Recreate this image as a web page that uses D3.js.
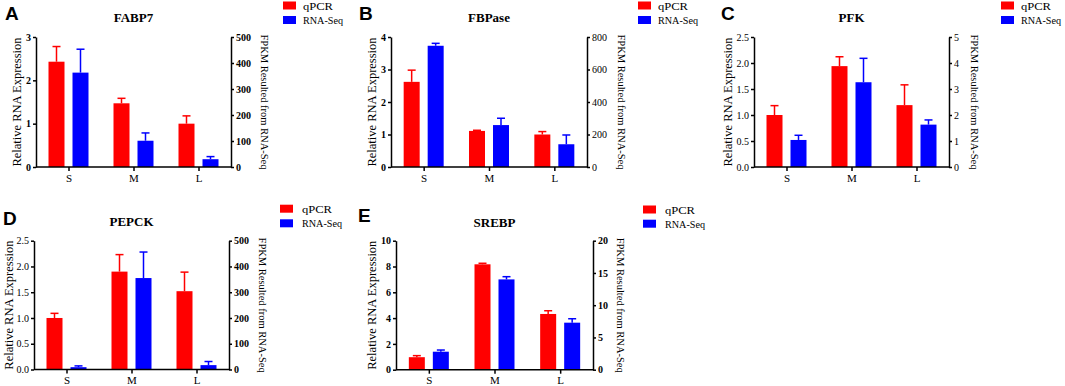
<!DOCTYPE html>
<html>
<head>
<meta charset="utf-8">
<script src="https://cdn.jsdelivr.net/npm/d3@7"></script>
<style>
  html, body { margin: 0; padding: 0; background: #fff; }
  svg { display: block; }
</style>
</head>
<body>
<svg id="chart" width="1065" height="386"></svg>
<script>
// ---------------- DATA ----------------
const categories = ["S", "M", "L"];
const seriesNames = ["qPCR", "RNA-Seq"];

// FABP7
const fabp7Qpcr = [2.43, 1.47, 1.0];
const fabp7QpcrErr = [0.35, 0.115, 0.18];
const fabp7Rna = [363, 101, 30];
const fabp7RnaErr = [90, 30, 10];
const fabp7LeftTicks = [0, 1, 2, 3];
const fabp7RightTicks = [0, 100, 200, 300, 400, 500];

// FBPase
const fbpaseQpcr = [2.62, 1.11, 1.0];
const fbpaseQpcrErr = [0.36, 0.02, 0.09];
const fbpaseRna = [746, 258, 140];
const fbpaseRnaErr = [15, 42, 57];
const fbpaseLeftTicks = [0, 1, 2, 3, 4];
const fbpaseRightTicks = [0, 200, 400, 600, 800];

// PFK
const pfkQpcr = [1.0, 1.94, 1.19];
const pfkQpcrErr = [0.18, 0.18, 0.39];
const pfkRna = [1.04, 3.26, 1.63];
const pfkRnaErr = [0.18, 0.92, 0.18];
const pfkLeftTicks = [0.0, 0.5, 1.0, 1.5, 2.0, 2.5];
const pfkRightTicks = [0, 1, 2, 3, 4, 5];

// PEPCK
const pepckQpcr = [1.0, 1.90, 1.52];
const pepckQpcrErr = [0.09, 0.33, 0.37];
const pepckRna = [9, 355, 17];
const pepckRnaErr = [5, 101, 14];
const pepckLeftTicks = [0.0, 0.5, 1.0, 1.5, 2.0, 2.5];
const pepckRightTicks = [0, 100, 200, 300, 400, 500];

// SREBP
const srebpQpcr = [0.97, 8.17, 4.32];
const srebpQpcrErr = [0.12, 0.08, 0.25];
const srebpRna = [2.79, 14.0, 7.29];
const srebpRnaErr = [0.26, 0.42, 0.61];
const srebpLeftTicks = [0, 2, 4, 6, 8, 10];
const srebpRightTicks = [0, 5, 10, 15, 20];

const panelData = [
  { letter: "A", gene: "FABP7", qpcr: fabp7Qpcr, qpcrErr: fabp7QpcrErr, rna: fabp7Rna, rnaErr: fabp7RnaErr, lt: fabp7LeftTicks, rt: fabp7RightTicks, lfmt: "d" },
  { letter: "B", gene: "FBPase", qpcr: fbpaseQpcr, qpcrErr: fbpaseQpcrErr, rna: fbpaseRna, rnaErr: fbpaseRnaErr, lt: fbpaseLeftTicks, rt: fbpaseRightTicks, lfmt: "d" },
  { letter: "C", gene: "PFK", qpcr: pfkQpcr, qpcrErr: pfkQpcrErr, rna: pfkRna, rnaErr: pfkRnaErr, lt: pfkLeftTicks, rt: pfkRightTicks, lfmt: ".1f" },
  { letter: "D", gene: "PEPCK", qpcr: pepckQpcr, qpcrErr: pepckQpcrErr, rna: pepckRna, rnaErr: pepckRnaErr, lt: pepckLeftTicks, rt: pepckRightTicks, lfmt: ".1f" },
  { letter: "E", gene: "SREBP", qpcr: srebpQpcr, qpcrErr: srebpQpcrErr, rna: srebpRna, rnaErr: srebpRnaErr, lt: srebpLeftTicks, rt: srebpRightTicks, lfmt: "d" }
];

// ---------------- LAYOUT ----------------
const layout = [
  { L: 36,  R: 231, T: 37,    B: 167,   letterX: 5,   letterY: 20,  titleY: 22,  legRect: 283, legText: 303, legY: [5.5, 20],     leftLabX: 17,  rightLabX: 264, lBold: true,  rBold: true },
  { L: 391, R: 587, T: 37,    B: 167,   letterX: 359, letterY: 20,  titleY: 22,  legRect: 638, legText: 658, legY: [5.5, 20],     leftLabX: 372, rightLabX: 621, lBold: true,  rBold: false },
  { L: 754, R: 949, T: 37,    B: 167,   letterX: 721, letterY: 20,  titleY: 22,  legRect: 1001, legText: 1021, legY: [5.5, 20],   leftLabX: 728, rightLabX: 974, lBold: false, rBold: false },
  { L: 34,  R: 229, T: 240.7, B: 369.5, letterX: 3,   letterY: 225, titleY: 226, legRect: 280, legText: 302, legY: [208.7, 223.3], leftLabX: 8.5, rightLabX: 262, lBold: false, rBold: true },
  { L: 396, R: 593, T: 240.7, B: 369.7, letterX: 358, letterY: 222, titleY: 227, legRect: 643, legText: 665, legY: [209.5, 223.7], leftLabX: 372, rightLabX: 620.5, lBold: true, rBold: true }
];
const legendTextWidths = [30, 40];

const colors = ["#ff0000", "#0000ff"];
const serif = "'Liberation Serif', 'Times New Roman', serif";
const sans = "'Liberation Sans', Arial, sans-serif";
const barW = 16, barGap = 8, capW = 8;

const svg = d3.select("#chart");

panelData.forEach((pd, i) => {
  const lo = layout[i];
  const g = svg.append("g");

  const x = d3.scalePoint().domain(categories).range([lo.L, lo.R]).padding(0.5);
  const yL = d3.scaleLinear().domain([0, d3.max(pd.lt)]).range([lo.B, lo.T]);
  const yR = d3.scaleLinear().domain([0, d3.max(pd.rt)]).range([lo.B, lo.T]);

  // bars
  const series = [
    { vals: pd.qpcr, errs: pd.qpcrErr, y: yL, off: -(barGap / 2 + barW), color: colors[0] },
    { vals: pd.rna, errs: pd.rnaErr, y: yR, off: barGap / 2, color: colors[1] }
  ];
  series.forEach(s => {
    const rows = categories.map((c, j) => ({ c, v: s.vals[j], e: s.errs[j] }));
    g.selectAll(null).data(rows).enter().append("rect")
      .attr("x", d => x(d.c) + s.off)
      .attr("y", d => s.y(d.v))
      .attr("width", barW)
      .attr("height", d => s.y(0) - s.y(d.v))
      .attr("fill", s.color);
    // error bars (upper only)
    g.selectAll(null).data(rows).enter().append("line")
      .attr("x1", d => x(d.c) + s.off + barW / 2)
      .attr("x2", d => x(d.c) + s.off + barW / 2)
      .attr("y1", d => s.y(d.v))
      .attr("y2", d => s.y(d.v + d.e))
      .attr("stroke", s.color).attr("stroke-width", 1.5);
    g.selectAll(null).data(rows).enter().append("line")
      .attr("x1", d => x(d.c) + s.off + barW / 2 - capW / 2)
      .attr("x2", d => x(d.c) + s.off + barW / 2 + capW / 2)
      .attr("y1", d => s.y(d.v + d.e))
      .attr("y2", d => s.y(d.v + d.e))
      .attr("stroke", s.color).attr("stroke-width", 1.5);
  });

  // axes
  const axL = g.append("g").attr("transform", `translate(${lo.L},0)`)
    .call(d3.axisLeft(yL).tickValues(pd.lt).tickFormat(d3.format(pd.lfmt)).tickSize(3).tickSizeOuter(0).tickPadding(2));
  const axR = g.append("g").attr("transform", `translate(${lo.R},0)`)
    .call(d3.axisRight(yR).tickValues(pd.rt).tickFormat(d3.format("d")).tickSize(3).tickSizeOuter(0).tickPadding(2));
  const axB = g.append("g").attr("transform", `translate(0,${lo.B})`)
    .call(d3.axisBottom(x).tickSize(4).tickSizeOuter(0).tickPadding(3));
  axB.select(".domain").attr("d", `M${lo.L},0H${lo.R}`);

  [axL, axR, axB].forEach(a => {
    a.attr("font-family", null);
    a.selectAll("path, line").attr("stroke", "#000").attr("stroke-width", 1.5);
    a.selectAll("text").attr("fill", "#000").style("font-family", serif);
  });
  axL.selectAll("text").style("font-size", "10px").style("font-weight", lo.lBold ? "bold" : "normal");
  axR.selectAll("text").style("font-size", "10px").style("font-weight", lo.rBold ? "bold" : "normal");
  axB.selectAll("text").style("font-size", "11px");

  // axis titles
  const midY = (lo.T + lo.B) / 2;
  g.append("text")
    .attr("transform", `translate(${lo.leftLabX},${midY}) rotate(-90)`)
    .attr("text-anchor", "middle").attr("dominant-baseline", "central")
    .style("font-family", serif).style("font-size", "12.5px")
    .text("Relative RNA Expression");
  g.append("text")
    .attr("transform", `translate(${lo.rightLabX},${midY}) rotate(90)`)
    .attr("text-anchor", "middle").attr("dominant-baseline", "central")
    .style("font-family", serif).style("font-size", "10.5px")
    .text("FPKM Resulted from RNA-Seq");

  // title
  g.append("text")
    .attr("x", (lo.L + lo.R) / 2).attr("y", lo.titleY)
    .attr("text-anchor", "middle")
    .style("font-family", serif).style("font-size", "13px").style("font-weight", "bold")
    .text(pd.gene);

  // panel letter
  g.append("text")
    .attr("x", lo.letterX).attr("y", lo.letterY)
    .style("font-family", sans).style("font-size", "19px").style("font-weight", "bold")
    .text(pd.letter);

  // legend
  seriesNames.forEach((name, k) => {
    g.append("rect")
      .attr("x", lo.legRect).attr("y", lo.legY[k] - 4)
      .attr("width", 13).attr("height", 8)
      .attr("fill", colors[k]);
    g.append("text")
      .attr("x", lo.legText).attr("y", lo.legY[k])
      .attr("dominant-baseline", "central")
      .attr("textLength", legendTextWidths[k])
      .attr("lengthAdjust", "spacingAndGlyphs")
      .style("font-family", serif).style("font-size", "10.8px")
      .text(name);
  });
});
</script>
</body>
</html>
